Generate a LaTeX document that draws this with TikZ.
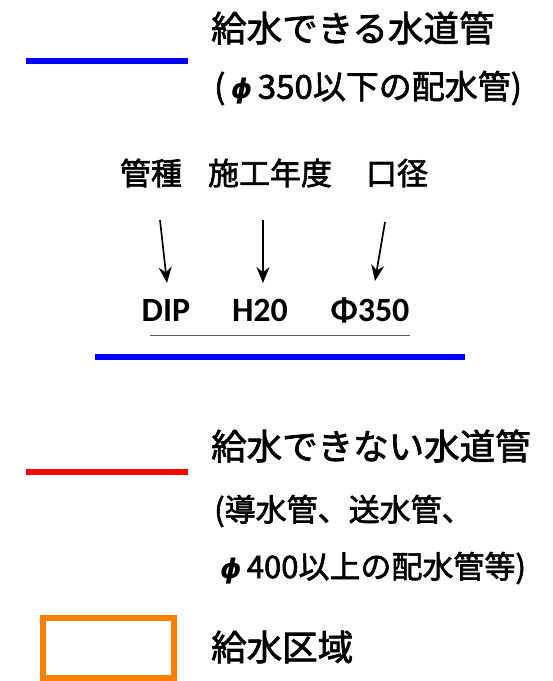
\documentclass[tikz,border=0pt]{standalone}
\usepackage{fontspec}
\newfontfamily\jpfont{Noto Sans CJK JP}[FakeBold=2]
\newfontfamily\codefont{Carlito}
\newfontfamily\phifont{DejaVu Sans}
\usetikzlibrary{arrows.meta}
\definecolor{legblue}{RGB}{0,0,255}
\definecolor{legred}{RGB}{255,0,0}
\definecolor{legorange}{RGB}{255,128,0}
\definecolor{ulgray}{RGB}{90,90,90}
\newcommand{\myphi}{{\phifont\bfseries\itshape\fontsize{27}{30}\selectfont ϕ}}
\tikzset{
  title/.style={anchor=west, inner sep=0pt, font=\jpfont\fontsize{35.5}{40}\selectfont},
  subA/.style={anchor=west, inner sep=0pt, font=\jpfont\fontsize{33}{38}\selectfont},
  subB/.style={anchor=west, inner sep=0pt, font=\jpfont\fontsize{31}{36}\selectfont},
  lab/.style={inner sep=0pt, font=\jpfont\fontsize{31}{36}\selectfont},
  code/.style={inner sep=0pt, font=\codefont\bfseries\fontsize{34}{40}\selectfont},
  pointer/.style={line width=1.7pt, -{Stealth[length=16pt,width=13pt]}},
  legline/.style={line width=6pt},
}
\begin{document}
\begin{tikzpicture}[x=1pt,y=-1pt]
\useasboundingbox (0,0) rectangle (553,681);
% blue legend
\coordinate (bl1) at (26,61); \coordinate (bl2) at (188,61);
\draw[legline, legblue] (bl1) -- (bl2);
\node[title] (t1) at (211,28) {給水できる水道管};
\node[subA] (s1) at (214,88) {(\,\myphi\,350以下の配水管)};
% labels
\node[lab] (k1) at (151,173) {管種};
\node[lab] (k2) at (270,173) {施工年度};
\node[lab] (k3) at (397,173) {口径};
\node[code] (c1) at (166,310) {DIP};
\node[code] (c2) at (260,310) {H20};
\node[code] (c3) at (370,310) {Φ350};
\coordinate (a1s) at (160,220); \coordinate (a1e) at (167,283);
\coordinate (a2s) at (263,220); \coordinate (a2e) at (263,283);
\coordinate (a3s) at (385,222); \coordinate (a3e) at (375,281);
\draw[pointer] (a1s) -- (a1e);
\draw[pointer] (a2s) -- (a2e);
\draw[pointer] (a3s) -- (a3e);
\coordinate (g1) at (150,335.5); \coordinate (g2) at (410,335.5);
\draw[ulgray, line width=1.6pt] (g1) -- (g2);
\coordinate (b1) at (95,357); \coordinate (b2) at (465,357);
\draw[legblue, line width=6.5pt] (b1) -- (b2);
% red legend
\coordinate (rl1) at (26,472); \coordinate (rl2) at (188,472);
\draw[legline, legred] (rl1) -- (rl2);
\node[title] (t2) at (211,446) {給水できない水道管};
\node[subB] (s2) at (214,511) {(導水管、送水管、};
\node[subB] (s3) at (220,568) {\myphi\,400以上の配水管等)};
% orange legend
\draw[legorange, line width=6.5pt] (43,618) rectangle (174,678);
\node[title] (t3) at (211,647) {給水区域};
\end{tikzpicture}
\end{document}
